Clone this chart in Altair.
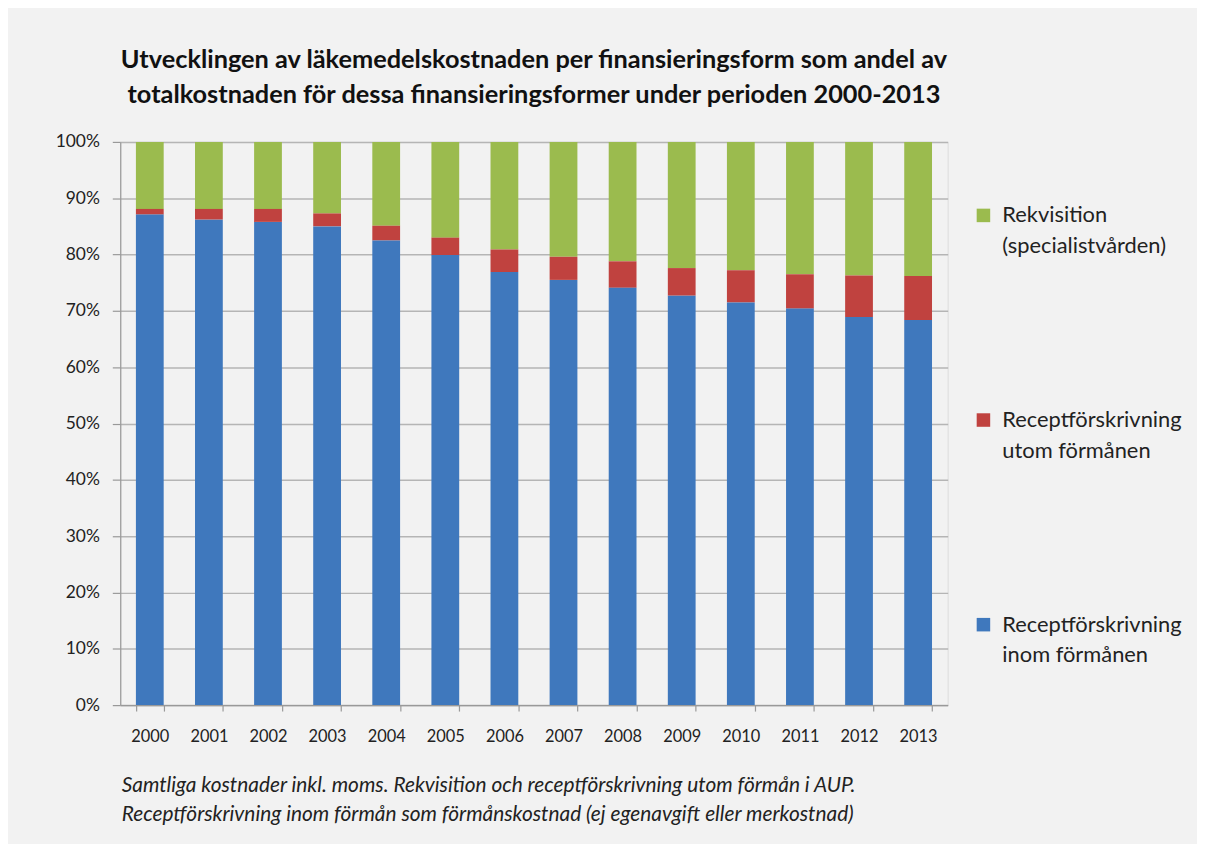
import altair as alt
import pandas as pd

years = ["2000", "2001", "2002", "2003", "2004", "2005", "2006",
         "2007", "2008", "2009", "2010", "2011", "2012", "2013"]
inom = [87.1, 86.2, 85.8, 85.0, 82.5, 79.9, 76.9, 75.5, 74.1, 72.7, 71.5, 70.4, 68.9, 68.4]
utom = [1.0, 1.9, 2.3, 2.3, 2.6, 3.1, 4.0, 4.1, 4.7, 4.9, 5.7, 6.1, 7.4, 7.8]
rekv = [11.9, 11.9, 11.9, 12.7, 14.9, 17.0, 19.1, 20.4, 21.2, 22.4, 22.8, 23.5, 23.7, 23.8]

series = ["Rekvisition|(specialistvården)",
          "Receptförskrivning|utom förmånen",
          "Receptförskrivning|inom förmånen"]
colors = ["#9BBB4E", "#C0423F", "#3F78BD"]
order_map = {series[0]: 3, series[1]: 2, series[2]: 1}

rows = []
for i, y in enumerate(years):
    for s, vals in zip(series, [rekv, utom, inom]):
        rows.append({"year": y, "serie": s, "value": vals[i], "ord": order_map[s]})
df = pd.DataFrame(rows)

FONT = "Lato"

chart = alt.Chart(df).mark_bar().encode(
    x=alt.X("year:N", sort=years,
            scale=alt.Scale(paddingInner=0.53, paddingOuter=0.265),
            axis=alt.Axis(
                title=["Samtliga kostnader inkl. moms.  Rekvisition och receptförskrivning  utom förmån i AUP.",
                       "Receptförskrivning inom förmån som  förmånskostnad (ej egenavgift eller merkostnad)"],
                titleFont=FONT, titleFontSize=21, titleFontStyle="italic", titleFontWeight="normal",
                titleColor="#222222", titleAnchor="start", titleAlign="left",
                titleX=1, titleY=87, titleBaseline="alphabetic", titleLineHeight=29,
                labelAngle=0, labelFont=FONT, labelFontSize=16.5, labelColor="#222222",
                labelPadding=18, tickSize=6, tickBand="extent",
                domainColor="#999999", tickColor="#999999", domainWidth=1.2, tickWidth=1.2,
                grid=False)),
    y=alt.Y("value:Q", stack="normalize",
            scale=alt.Scale(domain=[0, 1], nice=False),
            axis=alt.Axis(title=None, format=".0%", values=[i / 10 for i in range(11)],
                          labelFont=FONT, labelFontSize=17.5, labelColor="#222222",
                          labelPadding=13, tickSize=8,
                          domainColor="#999999", tickColor="#999999", domainWidth=1.2, tickWidth=1.2,
                          gridColor="#B5B5B5", gridWidth=1.5)),
    color=alt.Color("serie:N",
                    scale=alt.Scale(domain=series, range=colors),
                    legend=alt.Legend(title=None, orient="none", legendX=858, legendY=63,
                                      symbolType="square", symbolSize=185, symbolStrokeWidth=0,
                                      labelFont=FONT, labelFontSize=22, labelColor="#222222",
                                      labelExpr="split(datum.label, '|')",
                                      labelLimit=300, labelOffset=8,
                                      rowPadding=153, padding=0)),
    order=alt.Order("ord:Q", sort="ascending"),
).properties(
    width=833, height=567,
    title=alt.TitleParams(
        text=["Utvecklingen av läkemedelskostnaden per finansieringsform som andel av",
              "totalkostnaden för dessa finansieringsformer under perioden 2000-2013"],
        font=FONT, fontSize=25.5, fontWeight="bold", color="#111111",
        anchor="middle", lineHeight=35, offset=25),
    autosize=alt.AutoSizeParams(type="none"),
    padding={"left": 113, "top": 132, "right": 251, "bottom": 137},
    background="#F2F2F2",
).configure_view(stroke=None).configure(style={"guide-label": {"lineHeight": 31}})

chart.save("out.html", embed_options={"renderer": "svg", "actions": False})
